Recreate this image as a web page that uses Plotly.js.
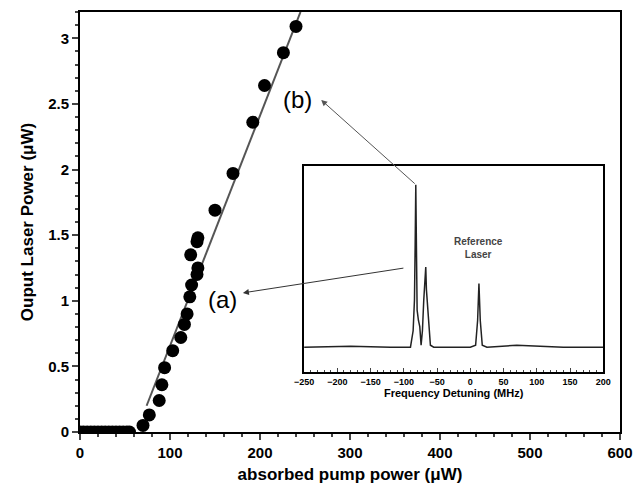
<!DOCTYPE html>
<html><head><meta charset="utf-8">
<script src="https://cdn.plot.ly/plotly-3.0.1.min.js"></script>
</head><body style="margin:0">
<div id="chart" style="width:636px;height:489px"></div>
<script>
// measured output vs absorbed pump power
var pumpPower = [0,4,8,12,16,20,24,28,32,36,40,44,48,52,55,70,77,88,91,94,103,112,116,119,122,124,123,130,131,130,131,150,170,192,205,226,240];
var laserPower = [0,0,0,0,0,0,0,0,0,0,0,0,0,0,0,0.05,0.13,0.24,0.36,0.49,0.62,0.72,0.82,0.90,1.03,1.12,1.35,1.20,1.25,1.45,1.48,1.69,1.97,2.36,2.64,2.89,3.09];
// linear fit
var fitX = [74, 245];
var fitY = [0.2, 3.2];
// inset spectrum (arbitrary units)
var detuning = [-250,-180,-120,-90,-86,-84,-83,-82,-81,-80,-78,-76,-74,-72,-70,-68,-67,-66,-64,-62,-60,-55,0,8,11,13,15,18,25,70,140,200];
var signal = [0.12,0.125,0.12,0.12,0.2,0.35,0.6,0.91,0.6,0.3,0.25,0.22,0.13,0.2,0.35,0.45,0.51,0.4,0.3,0.2,0.13,0.12,0.12,0.13,0.25,0.43,0.25,0.13,0.12,0.13,0.12,0.12];

var data = [
  {x: fitX, y: fitY, mode: 'lines', line: {color: '#555', width: 2}, hoverinfo: 'skip'},
  {x: pumpPower, y: laserPower, mode: 'markers', marker: {color: '#000', size: 13}},
  {x: detuning, y: signal, xaxis: 'x2', yaxis: 'y2', mode: 'lines', line: {color: '#222', width: 1.5}}
];
var layout = {
  width: 636, height: 489, showlegend: false,
  margin: {l: 80, r: 16, t: 12, b: 57},
  plot_bgcolor: '#fff', paper_bgcolor: '#fff',
  font: {family: 'Liberation Sans', color: '#000'},
  xaxis: {range: [0, 600], dtick: 100, showgrid: false, zeroline: false, showline: true, mirror: true,
    linecolor: '#000', linewidth: 2, ticks: 'outside', ticklen: 6, tickwidth: 2,
    minor: {dtick: 20, ticks: 'outside', ticklen: 3},
    tickprefix: '<b>', ticksuffix: '</b>', tickfont: {size: 15},
    title: {text: '<b>absorbed pump power (μW)</b>', font: {size: 17}, standoff: 8}},
  yaxis: {range: [0, 3.2], dtick: 0.5, showgrid: false, zeroline: false, showline: true, mirror: true,
    linecolor: '#000', linewidth: 2, ticks: 'outside', ticklen: 6, tickwidth: 2,
    minor: {dtick: 0.1, ticks: 'outside', ticklen: 3},
    tickprefix: '<b>', ticksuffix: '</b>', tickfont: {size: 15},
    title: {text: '<b>Ouput Laser Power (μW)</b>', font: {size: 17}, standoff: 10}},
  xaxis2: {domain: [0.415, 0.969], anchor: 'y2', range: [-250, 200], dtick: 50, showgrid: false, zeroline: false,
    showline: true, mirror: true, linecolor: '#000', linewidth: 2, ticks: 'inside', ticklen: 4,
    minor: {dtick: 10, ticks: 'inside', ticklen: 2},
    tickprefix: '<b>', ticksuffix: '</b>', tickfont: {size: 9},
    title: {text: '<b>Frequency Detuning (MHz)</b>', font: {size: 11}, standoff: 2}},
  yaxis2: {domain: [0.143, 0.633], anchor: 'x2', range: [0, 1], showgrid: false, zeroline: false,
    showline: true, mirror: true, linecolor: '#000', linewidth: 2, showticklabels: false, ticks: ''},
  annotations: [
    {x: 181, y: 1.06, ax: 162, ay: -25, text: '', showarrow: true, arrowhead: 2, arrowsize: 1.2, arrowwidth: 1, arrowcolor: '#333'},
    {x: 268, y: 2.53, ax: 95, ay: 85, text: '', showarrow: true, arrowhead: 2, arrowsize: 1.2, arrowwidth: 1, arrowcolor: '#555'},
    {x: 158, y: 1.01, text: '(a)', showarrow: false, font: {size: 24}},
    {x: 242, y: 2.53, text: '(b)', showarrow: false, font: {size: 24}},
    {xref: 'x2', yref: 'y2', x: 13, y: 0.6, text: '<b>Reference<br>Laser</b>', showarrow: false, font: {size: 10, color: '#444'}}
  ]
};
Plotly.newPlot('chart', data, layout, {displayModeBar: false});
</script>
</body></html>
